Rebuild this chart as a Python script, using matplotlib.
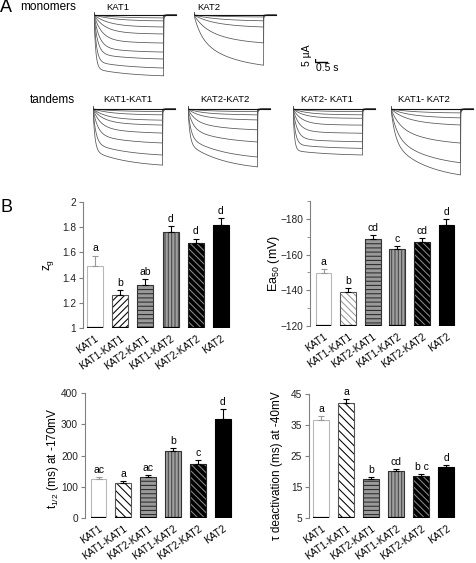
import matplotlib
matplotlib.use("Agg")
import matplotlib.pyplot as plt
import numpy as np

plt.rcParams['font.family'] = ['Liberation Sans', 'DejaVu Sans']
plt.rcParams['mathtext.default'] = 'regular'
plt.rcParams['hatch.linewidth'] = 0.75

W, H = 477, 563

# ---- panel A: current traces (amplitudes in uA, time constants in s) ----
pulse_T = 2.9
tau_slow = 1.5

KAT1_fast = [1.2, 2.4, 4.8, 7.6, 11.2, 14.8, 17.6, 21.2, 24.4]
KAT1_slow = [0.2, 0.4, 0.8, 1.2, 1.8, 2.4, 2.8, 3.4, 3.8]
KAT1_tau = [0.9, 0.8, 0.6, 0.45, 0.32, 0.22, 0.15, 0.1, 0.07]

KAT2_fast = [0.4, 1.2, 2.4, 5.5, 10.0]
KAT2_slow = [0.6, 1.7, 3.6, 8.4, 15.0]
KAT2_tau = [0.8, 0.7, 0.6, 0.45, 0.3]

K1K1_fast = [0.9, 2.0, 3.8, 5.5, 8.2, 11.6, 15.7, 19.1]
K1K1_slow = [0.35, 0.8, 1.5, 2.1, 3.2, 4.5, 6.1, 7.5]
K1K1_tau = [0.9, 0.7, 0.5, 0.4, 0.3, 0.2, 0.12, 0.08]

K2K2_fast = [0.7, 1.6, 3.0, 5.7, 9.0, 13.1, 15.8]
K2K2_slow = [0.55, 1.25, 2.3, 4.4, 7.0, 10.2, 12.3]
K2K2_tau = [0.6, 0.5, 0.4, 0.3, 0.2, 0.12, 0.08]

K2K1_fast = [1.1, 2.4, 3.8, 6.6, 9.9, 13.4, 16.1, 18.8]
K2K1_slow = [0.15, 0.3, 0.5, 0.85, 1.3, 1.75, 2.1, 2.45]
K2K1_tau = [0.8, 0.6, 0.45, 0.35, 0.25, 0.17, 0.1, 0.06]

K1K2_fast = [0.9, 2.0, 3.6, 7.7, 12.2, 15.0]
K1K2_slow = [1.05, 2.4, 4.3, 9.1, 14.3, 17.5]
K1K2_tau = [0.7, 0.6, 0.5, 0.35, 0.25, 0.18]

scale_t = 0.5
scale_i = 5

# ---- panel B: bar data ----
constructs = ['KAT1', 'KAT1-KAT1', 'KAT2-KAT1', 'KAT1-KAT2', 'KAT2-KAT2', 'KAT2']

zg_vals = [1.49, 1.265, 1.34, 1.765, 1.675, 1.82]
zg_errs = [0.085, 0.035, 0.045, 0.045, 0.035, 0.055]
zg_letters = ['a', 'b', 'ab', 'd', 'd', 'd']

ea_vals = [-149.6, -138.9, -168.8, -163.3, -167.0, -176.3]
ea_errs = [2.4, 2.6, 1.9, 1.3, 2.3, 3.4]
ea_letters = ['a', 'b', 'cd', 'c', 'cd', 'd']

t12_vals = [124, 112, 130, 213, 173, 317]
t12_errs = [6, 5, 8, 10, 12, 33]
t12_letters = ['ac', 'a', 'ac', 'b', 'c', 'd']

tau_vals = [36.5, 42.0, 17.6, 20.2, 18.4, 21.5]
tau_errs = [1.3, 1.4, 0.5, 0.6, 0.8, 0.5]
tau_letters = ['a', 'a', 'b', 'cd', 'b c', 'd']

fig = plt.figure(figsize=(W / 100, H / 100), dpi=100)


def px_axes(x, y, w, h):
    return fig.add_axes([x / W, 1 - (y + h) / H, w / W, h / H])


def px_text(x, y, s, **kw):
    fig.text(x / W, 1 - y / H, s, **kw)


PX_S = 24.0
PX_UA = 2.2
T_MAX = 3.5
I_MIN, I_MAX = -36, 1.5


def trace_axes(x0, ybase):
    ax = px_axes(x0, ybase - I_MAX * PX_UA, T_MAX * PX_S, (I_MAX - I_MIN) * PX_UA)
    ax.set_xlim(0, T_MAX)
    ax.set_ylim(I_MIN, I_MAX)
    ax.axis('off')
    return ax


def plot_traces(x0, ybase, fast, slow, taus):
    ax = trace_axes(x0, ybase)
    t = np.linspace(0, pulse_T, 500)
    t2 = np.linspace(pulse_T, T_MAX * 0.98, 120)
    for af, as_, tf in zip(fast, slow, taus):
        cur = -(af * (1 - np.exp(-t / tf)) + as_ * (1 - np.exp(-t / tau_slow)))
        tail = cur[-1] * 0.07 * np.exp(-(t2 - pulse_T) / 0.05)
        ax.plot(np.r_[t, t2], np.r_[cur, tail], color='#555555', lw=0.55)
    ax.plot([0, T_MAX * 0.98], [0, 0], color='#111111', lw=0.8)
    ax.plot([0, 0], [0, 1.2], color='#333333', lw=0.6)
    return ax


plot_traces(94, 15, KAT1_fast, KAT1_slow, KAT1_tau)
plot_traces(194, 15, KAT2_fast, KAT2_slow, KAT2_tau)
plot_traces(93, 109, K1K1_fast, K1K1_slow, K1K1_tau)
plot_traces(188, 109, K2K2_fast, K2K2_slow, K2K2_tau)
plot_traces(293, 109, K2K1_fast, K2K1_slow, K2K1_tau)
plot_traces(391, 109, K1K2_fast, K1K2_slow, K1K2_tau)

# scale bar
sb = trace_axes(315, 62)
sb.plot([0, 0, scale_t], [scale_i, 0, 0], color='black', lw=1.0)

px_text(0, 8, 'A', fontsize=13, va='center', ha='left')
px_text(20, 7, 'monomers', fontsize=8.5, va='center', ha='left')
px_text(30, 100, 'tandems', fontsize=8.5, va='center', ha='left')
px_text(118, 7, 'KAT1', fontsize=6.8, va='center', ha='center')
px_text(209, 7, 'KAT2', fontsize=6.8, va='center', ha='center')
px_text(128, 100, 'KAT1-KAT1', fontsize=6.8, va='center', ha='center')
px_text(225, 100, 'KAT2-KAT2', fontsize=6.8, va='center', ha='center')
px_text(327, 100, 'KAT2- KAT1', fontsize=6.8, va='center', ha='center')
px_text(424, 100, 'KAT1- KAT2', fontsize=6.8, va='center', ha='center')
px_text(307, 55, '5 µA', fontsize=7.5, rotation=90, va='center', ha='center')
px_text(327, 68, '0.5 s', fontsize=7.5, va='center', ha='center')

px_text(0, 208, 'B', fontsize=13, va='center', ha='left')

# ---- bar panels ----
faces = ['white', 'white', '#9a9a9a', '#a0a0a0', 'black', 'black']
hatch_cols = ['white', 'black', '#2a2a2a', '#454545', '#8a8a8a', 'black']
hatches = [None, '\\\\\\\\\\', '----', '|||||', '\\\\\\\\\\', None]
edges = ['#b8b8b8', '#555555', '#333333', '#333333', '#222222', 'black']
err_cols = ['#999999', 'black', 'black', 'black', 'black', 'black']
BAR_W = 0.64


def bar_panel(rect, xlim, ylim, vals, errs, letters, ticks, k11_hatch, k11_col,
              minor=None, fmt=None):
    ax = px_axes(*rect)
    x = np.arange(len(vals))
    base = ylim[0]
    sign = 1 if ylim[1] > ylim[0] else -1
    hs = list(hatches)
    hc = list(hatch_cols)
    hs[1] = k11_hatch
    hc[1] = k11_col
    for i in range(len(vals)):
        ax.bar(x[i], vals[i] - base, bottom=base, width=BAR_W, color=faces[i],
               hatch=hs[i], edgecolor=hc[i], linewidth=0, zorder=2)
        ax.bar(x[i], vals[i] - base, bottom=base, width=BAR_W, fill=False,
               edgecolor=edges[i], linewidth=0.8, zorder=3)
        yerr = [[0], [errs[i]]] if sign > 0 else [[errs[i]], [0]]
        ax.errorbar(x[i], vals[i], yerr=yerr, fmt='none', ecolor=err_cols[i],
                    elinewidth=0.8, capsize=2.2, capthick=0.8, zorder=4)
        ax.annotate(letters[i], (x[i], vals[i] + sign * errs[i]), xytext=(0, 1.5),
                    textcoords='offset points', ha='center', va='bottom',
                    fontsize=7.5)
    ax.hlines([base] * len(vals), x - BAR_W / 2, x + BAR_W / 2, color='black',
              lw=1.6, zorder=5)
    ax.set_xlim(*xlim)
    ax.set_ylim(*ylim)
    ax.set_yticks(ticks)
    if fmt:
        ax.set_yticklabels([fmt(v) for v in ticks])
    if minor is not None:
        ax.set_yticks(minor, minor=True)
    for s in ['top', 'right', 'bottom']:
        ax.spines[s].set_visible(False)
    ax.spines['left'].set_color('#808080')
    ax.spines['left'].set_linewidth(0.8)
    ax.tick_params(axis='y', which='both', direction='out', color='#808080',
                   labelsize=7.3, labelcolor='#222222', pad=2)
    ax.tick_params(axis='y', which='major', length=3)
    ax.tick_params(axis='y', which='minor', length=2)
    ax.set_xticks(x)
    ax.set_xticklabels(constructs, rotation=35, ha='right',
                       rotation_mode='anchor', fontsize=7.2)
    ax.tick_params(axis='x', length=0, pad=4)
    ax.patch.set_alpha(0)
    return ax


bar_panel((83, 202, 149, 126), (-0.476, 5.437), (1, 2), zg_vals, zg_errs,
          zg_letters, [1, 1.2, 1.4, 1.6, 1.8, 2], '/////', 'black',
          fmt=lambda v: '%g' % v)
bar_panel((310, 201, 150, 125), (-0.549, 5.55), (-120, -190), ea_vals, ea_errs,
          ea_letters, [-120, -140, -160, -180], '\\\\\\\\\\', '#9a9a9a',
          minor=[-130, -150, -170, -190])
bar_panel((85, 393, 149, 125), (-0.544, 5.46), (0, 400), t12_vals, t12_errs,
          t12_letters, [0, 100, 200, 300, 400], '\\\\\\\\', 'black')
bar_panel((309, 394, 151, 124), (-0.5, 5.54), (5, 45), tau_vals, tau_errs,
          tau_letters, [5, 15, 25, 35, 45], '\\\\\\\\', 'black')

px_text(49, 265, 'z$_g$', fontsize=8.5, rotation=90, va='center', ha='center')
px_text(274, 263, 'Ea$_{50}$ (mV)', fontsize=9, rotation=90, va='center', ha='center')
px_text(53, 458, 't$_{1/2}$ (ms) at -170mV', fontsize=8.5, rotation=90,
        va='center', ha='center')
px_text(277, 466, 'τ deactivation (ms) at -40mV', fontsize=8.5, rotation=90,
        va='center', ha='center')

fig.savefig('out.png', dpi=100)
